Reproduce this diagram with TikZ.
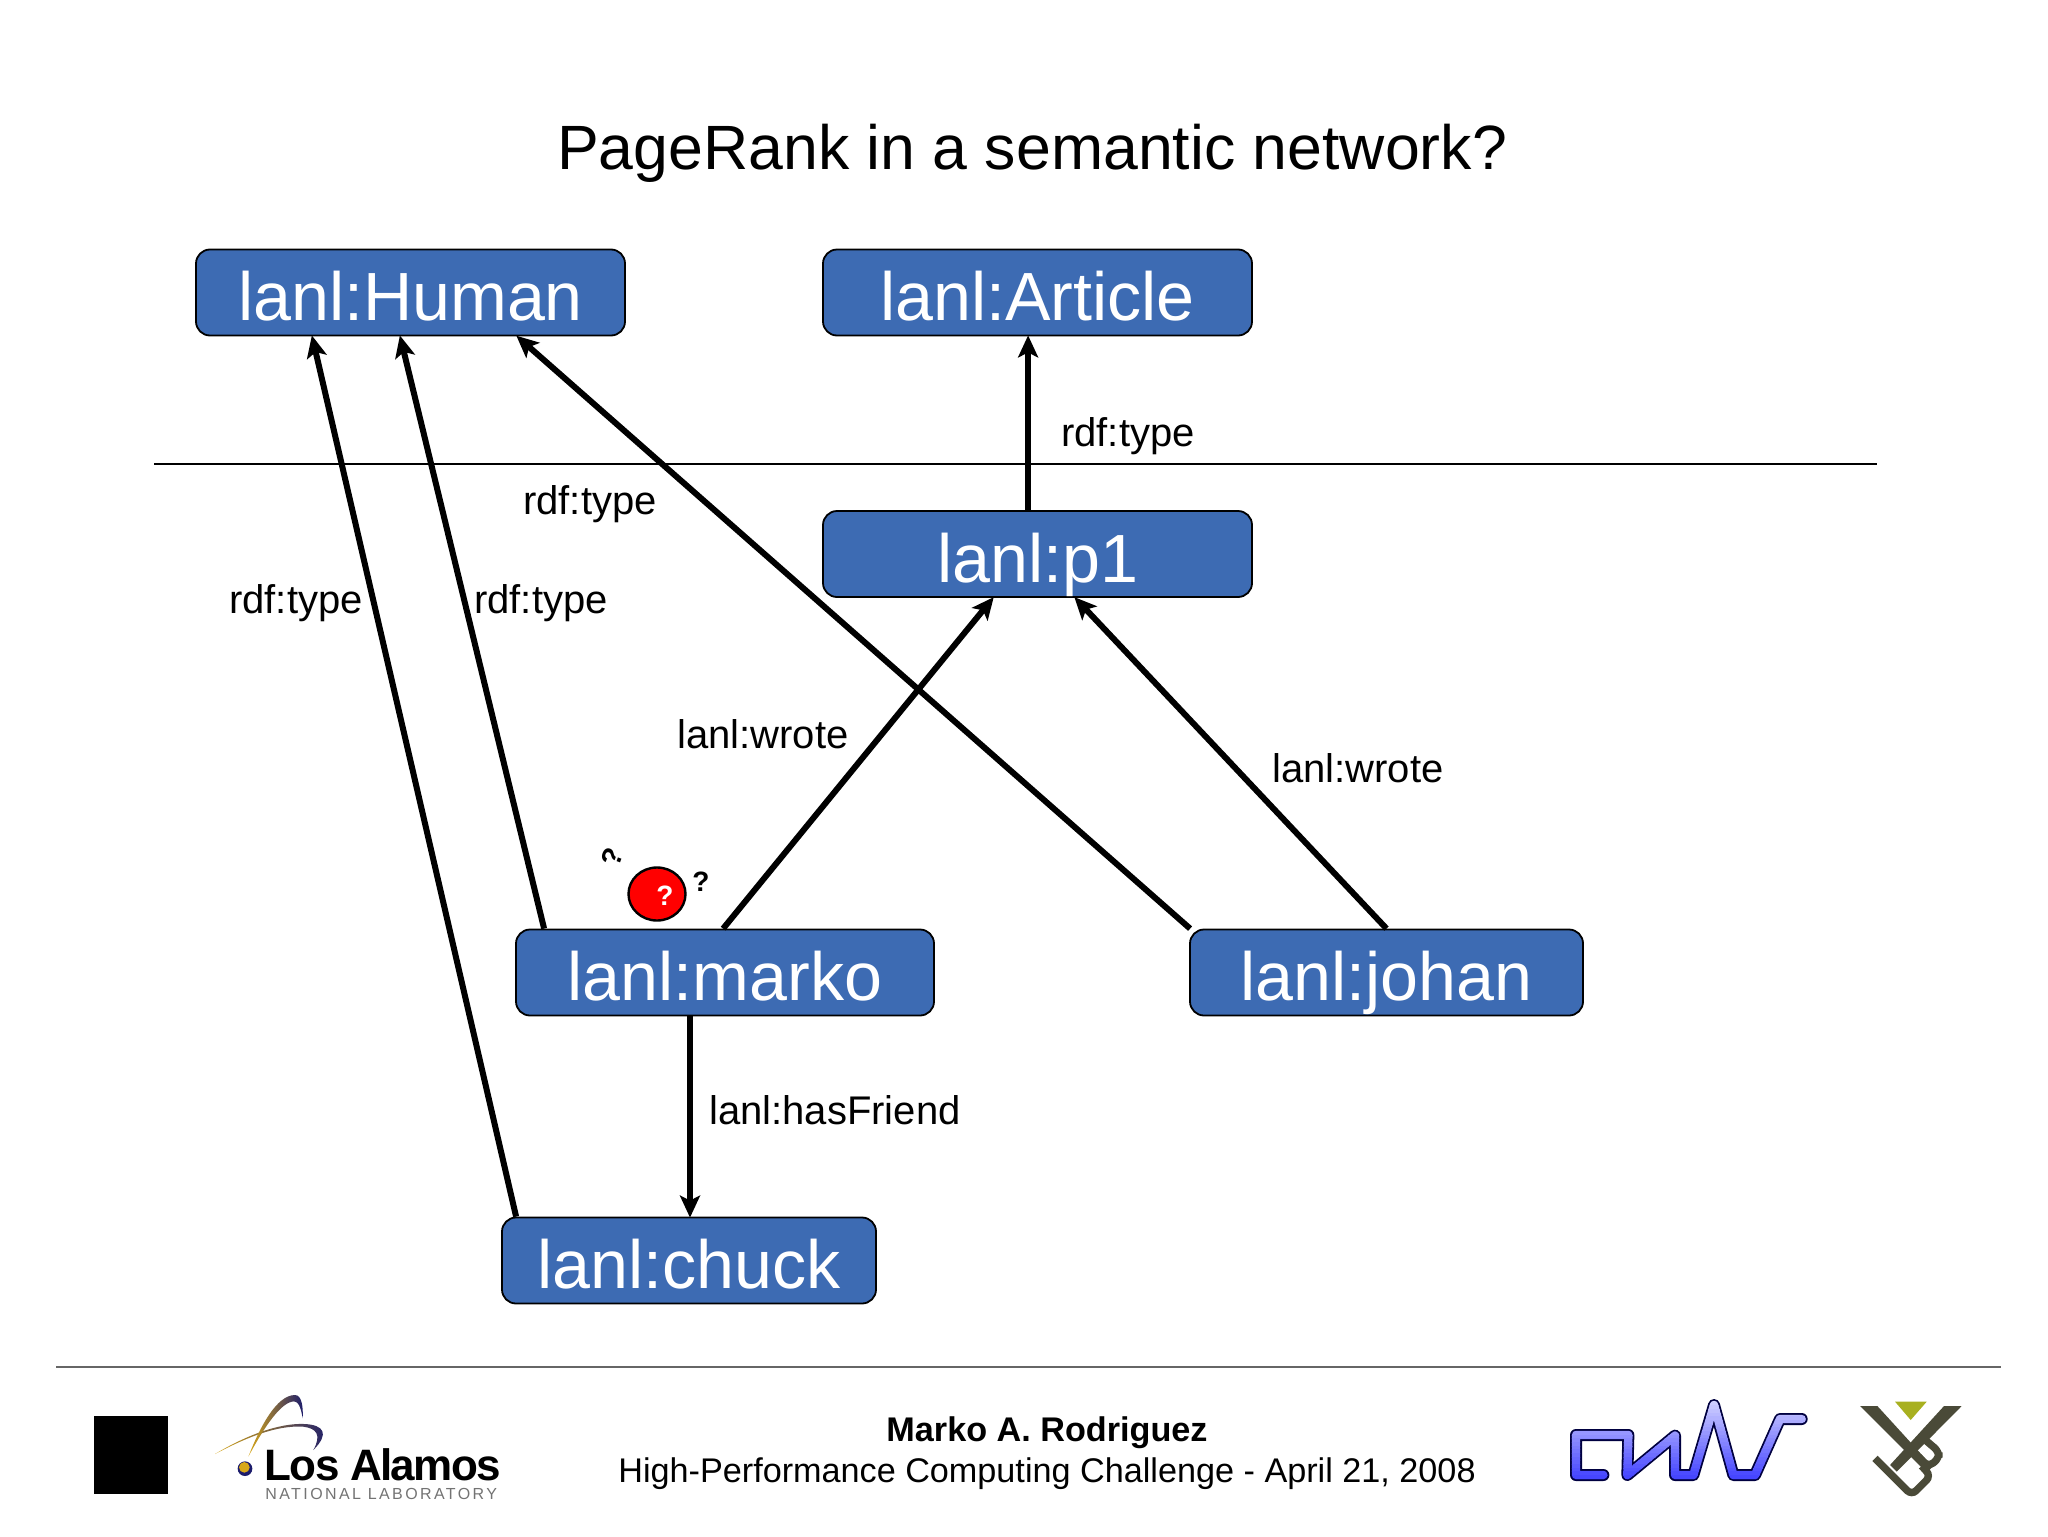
\documentclass[tikz,border=0pt]{standalone}
\usepackage{fontspec}
\setmainfont{Liberation Sans}
\newfontfamily\lafont[LetterSpace=-3.6]{Liberation Sans}
\newfontfamily\nlfont[LetterSpace=15]{Liberation Sans}
\usetikzlibrary{arrows.meta,calc}
\definecolor{boxblue}{HTML}{3D6BB3}
\definecolor{vubdark}{HTML}{4A4A38}
\definecolor{vubolive}{HTML}{A8B020}
\definecolor{lanavy}{HTML}{1C1C6C}
\definecolor{lagold}{HTML}{D8A818}
\definecolor{cwatop}{HTML}{D4D4FF}
\definecolor{cwabot}{HTML}{3838FF}
\tikzset{
  classbox/.style={draw=black,line width=0.9pt,fill=boxblue,rounded corners=7pt,text=white,
    font=\fontsize{34.1}{36}\selectfont,inner sep=0pt,minimum height=43pt,
    text height=30pt,text depth=2pt,align=center},
  edgelabel/.style={font=\fontsize{20}{24}\selectfont,inner sep=0pt,text=black},
  conn/.style={line width=3pt,-{Stealth[length=11pt,width=10pt,inset=2.5pt]},shorten >=-0.5pt},
  qmark/.style={font=\fontsize{14}{15}\selectfont\bfseries,inner sep=0pt},
  zoomed/.style={x=0.16667pt,y=-0.16667pt}
}
\newcommand{\cwapath}{(190,315) -- (108,315) -- (108,195) -- (265,195) -- (262,315) -- (405,197) -- (405,315) -- (460,315) -- (522,105) -- (580,315) -- (645,315) -- (720,147) -- (785,147)}
\begin{document}
\begin{tikzpicture}[x=0.5pt,y=-0.5pt]
\useasboundingbox (0,0) rectangle (2048,1536);
\fill[white] (0,0) rectangle (2048,1536);
\node[font=\fontsize{31.3}{36}\selectfont,inner sep=0pt] (title) at (1032,153) {PageRank in a semantic network?};
\coordinate (ruleL) at (154,464);
\coordinate (ruleR) at (1877,464);
\draw[line width=1.1pt] (ruleL) -- (ruleR);
\node[classbox,minimum width=214.5pt] (human) at (410.5,292.5) {lanl:Human};
\node[classbox,minimum width=214.5pt] (article) at (1037.5,292.5) {lanl:Article};
\node[classbox,minimum width=214.5pt] (p1) at (1037.5,554) {lanl:p1};
\node[classbox,minimum width=209pt] (marko) at (725,972.5) {lanl:marko};
\node[classbox,minimum width=196.5pt] (johan) at (1386.5,972.5) {lanl:johan};
\node[classbox,minimum width=187pt] (chuck) at (689,1260.5) {lanl:chuck};
\draw[conn] ([xshift=7.5pt]chuck.north west) -- ([xshift=58.5pt]human.south west);
\draw[conn] ([xshift=14.5pt]marko.north west) -- ([xshift=102.5pt]human.south west);
\draw[conn] ([xshift=0.5pt]johan.north west) -- ([xshift=161pt]human.south west);
\draw[conn] ([xshift=104pt]marko.north west) -- ([xshift=85.5pt]p1.south west);
\draw[conn] (johan.north) -- ([xshift=126.5pt]p1.south west);
\draw[conn] ([xshift=103pt]p1.north west) -- ([xshift=103pt]article.south west);
\draw[conn] ([xshift=0.5pt]chuck.north |- marko.south) -- ([xshift=0.5pt]chuck.north);
\node[edgelabel] (l1) at (1128,436) {rdf:type};
\node[edgelabel] (l2) at (590,504) {rdf:type};
\node[edgelabel] (l3) at (296,603) {rdf:type};
\node[edgelabel] (l4) at (541,603) {rdf:type};
\node[edgelabel] (l5) at (763,734) {lanl:wrote};
\node[edgelabel] (l6) at (1358,768) {lanl:wrote};
\node[edgelabel] (l7) at (835,1110) {lanl:hasFriend};
% thinking bubble
\draw[line width=1.2pt,fill=red] (657,894) ellipse (28.5 and 26.5);
\node[qmark,text=white] (qa) at (665,896) {?};
\node[qmark] (qb) at (701,882) {?};
\node[qmark,rotate=70] (qc) at (612,857) {?};
% footer
\coordinate (footL) at (56,1367);
\coordinate (footR) at (2001,1367);
\draw[line width=0.8pt,draw=black!60] (footL) -- (footR);
\node[font=\bfseries\fontsize{17.1}{20}\selectfont,inner sep=0pt] (auth) at (1047,1433) {Marko A. Rodriguez};
\node[font=\fontsize{17.1}{20}\selectfont,inner sep=0pt] (conf) at (1047,1474) {High-Performance Computing Challenge - April 21, 2008};
\fill[black] (94,1416) rectangle (168,1494);
% Los Alamos logo
\node[anchor=base west,inner sep=0pt,font=\lafont\bfseries\fontsize{22}{24}\selectfont] (la) at (264,1480) {Los Alamos};
\node[anchor=base west,inner sep=0pt,font=\nlfont\fontsize{8}{10}\selectfont,text=black!55] (nl) at (265,1499.5) {NATIONAL LABORATORY};
\begin{scope}[shift={(60,1350)},zoomed]
\shade[left color=lagold,middle color=lanavy!80!lagold,right color=lanavy] (465,312) .. controls (560,255) and (660,218) .. (735,222) .. controls (790,225) and (810,250) .. (760,300) .. controls (785,255) and (770,235) .. (730,230) .. controls (650,225) and (560,262) .. cycle;
\shade[left color=lagold,middle color=lanavy,right color=lanavy] (565,320) .. controls (600,230) and (650,135) .. (705,135) .. controls (725,135) and (730,170) .. (728,205) .. controls (722,170) and (715,150) .. (695,155) .. controls (655,165) and (605,245) .. cycle;
\fill[lanavy] (555,356) circle (22);
\fill[lagold] (553,352) circle (16);
\end{scope}
% CWI logo
\begin{scope}[shift={(1540,1370)},zoomed]
\draw[line width=6pt,draw=black!75!blue,line join=round,line cap=round] \cwapath;
\foreach \i in {0,...,23}{
  \pgfmathsetmacro{\yy}{85+\i*11}
  \pgfmathsetmacro{\mixv}{100*\i/23}
  \begin{scope}
    \clip (60,\yy) rectangle (820,\yy+11.5);
    \draw[line width=4.2pt,color={cwabot!\mixv!cwatop},line join=round,line cap=round] \cwapath;
  \end{scope}
}
\end{scope}
% VUB logo
\begin{scope}[shift={(1540,1370)},zoomed]
\fill[vubolive] (1065,95) -- (1160,95) -- (1112,150) -- cycle;
\fill[vubdark] (960,108) -- (1012,108) -- (1178,290) -- (1160,308) -- cycle;
\fill[vubdark] (1265,108) -- (1212,108) -- (1050,285) -- (1070,305) -- cycle;
\draw[vubdark,line width=3.7pt,rounded corners=3pt] (1005,265) -- (1115,375) -- (1172,318) -- (1145,288);
\draw[vubdark,line width=3.7pt,rounded corners=3pt] (1150,205) -- (1197,245) -- (1197,265) -- (1165,290) -- (1135,260);
\end{scope}
\end{tikzpicture}
\end{document}
